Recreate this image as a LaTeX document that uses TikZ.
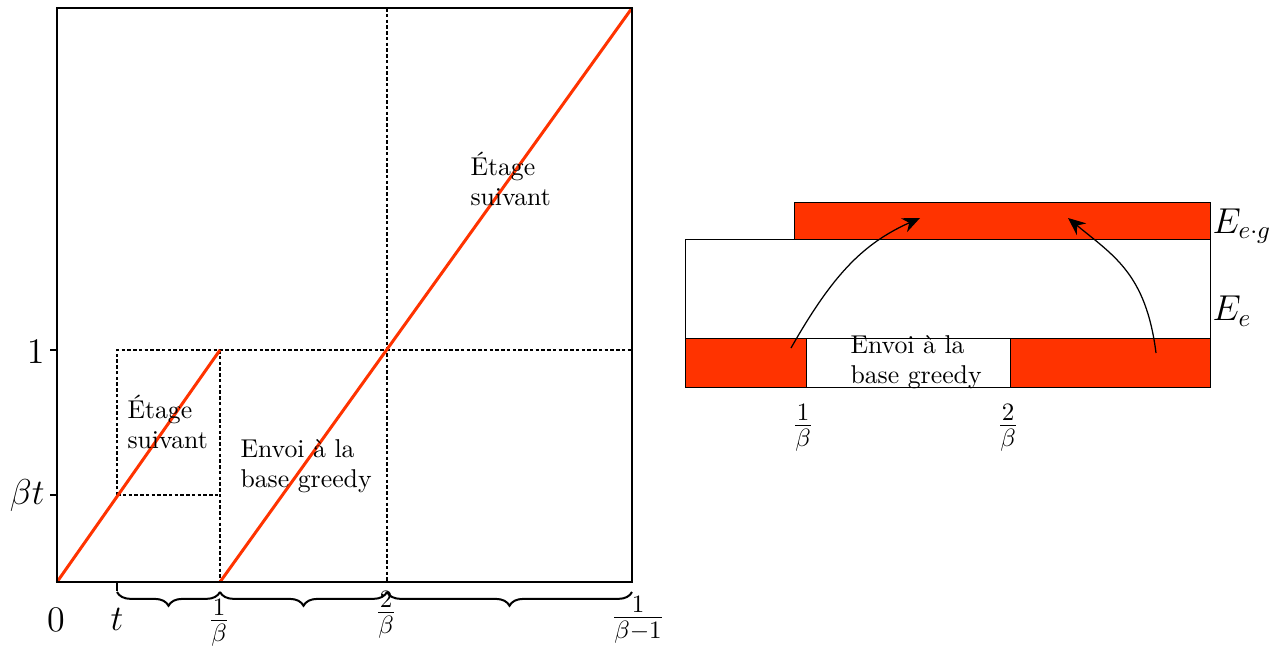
\documentclass[tikz,border=0pt]{standalone}
\usepackage{amsmath}
\usepackage{amssymb}
\usepackage{tikz}
\usetikzlibrary{arrows.meta, decorations.pathreplacing, positioning, calc}
\definecolor{vermillon}{RGB}{255,51,0}
\tikzstyle{frame} = [draw=black, line width=0.7pt]
\tikzstyle{arrow} = [line width=0.5pt, -{Stealth[length=7pt, width=6pt]}]

\begin{document}
\begin{tikzpicture}[x=0.4pt, y=-0.4pt]

    % --- Styles ---
    \tikzset{
        frame/.style={draw=black, line width=0.75pt},
        guide/.style={dash pattern=on 1.4pt off 0.9pt, line width=0.45pt},
        rate/.style={vermillon, line width=1.2pt},
        curly/.style={decorate, decoration={brace, mirror, amplitude=5.5pt}, line width=0.8pt},
        ticklabel/.style={font=\fontsize{14}{16}\selectfont, inner sep=0pt},
        fraclabel/.style={font=\Large, inner sep=0pt},
        caption/.style={align=left, anchor=north west, inner sep=0pt, font=\fontsize{10.3}{12}\selectfont},
        bar/.style={draw=black, line width=0.4pt, fill=white},
        hot/.style={bar, fill=vermillon},
        arrow/.style={line width=0.5pt, -{Stealth[length=7pt, width=6pt]}}
    }

    \useasboundingbox (0,0) rectangle (1278,648);

    % --- Graphe de gauche ---
    \draw[guide] (117,495) -- (117,350) -- (632,350);
    \draw[guide] (117,495) -- (220,495);
    \draw[guide] (220,350) -- (220,582);
    \draw[guide] (387,8) -- (387,582);
    \draw[rate] (57,582) -- (220,350);
    \draw[rate] (220,582) -- (632,8);
    \draw[frame] (57,8) rectangle (632,582);

    % graduations
    \draw[frame] (50,350) -- (57,350);
    \draw[frame] (50,495) -- (57,495);
    \draw[frame] (117,582) -- (117,591);
    \node (lab1) [ticklabel, anchor=east] at (45,352) {$1$};
    \node (labbt) [ticklabel, anchor=east] at (45,495) {$\beta t$};
    \node (lab0) [ticklabel] at (56,620) {$0$};
    \node (labt) [ticklabel] at (117,619) {$t$};
    \node (labinv) [fraclabel] at (219,623) {$\frac{1}{\beta}$};
    \node (labtwo) [fraclabel] at (386,615) {$\frac{2}{\beta}$};
    \node (labend) [fraclabel] at (638,620) {$\frac{1}{\beta-1}$};

    % accolades
    \draw[curly] (117,592) -- (220,592);
    \draw[curly] (220,592) -- (387,592);
    \draw[curly] (387,592) -- (632,592);

    % textes
    \node (nexthigh) [caption] at (470,152) {\'Etage\\suivant};
    \node (nextlow) [caption] at (127,395) {\'Etage\\suivant};
    \node (greedyleft) [caption] at (240,439) {Envoi \`a la\\base greedy};

    % --- Schema de droite ---
    \draw[bar] (685,239) rectangle (1210,338);
    \draw[hot] (794,202) rectangle (1210,239);
    \draw[hot] (685,338) rectangle (806,387);
    \draw[bar] (806,338) rectangle (1010,387);
    \draw[hot] (1010,338) rectangle (1210,387);

    \node (greedyright) [caption] at (850,335) {Envoi \`a la\\base greedy};
    \node (eeg) [ticklabel, anchor=west] at (1212,226) {$E_{e\cdot g}$};
    \node (ee) [ticklabel, anchor=west] at (1212,311) {$E_e$};
    \node (rinv) [fraclabel] at (803,428) {$\frac{1}{\beta}$};
    \node (rtwo) [fraclabel] at (1008,428) {$\frac{2}{\beta}$};

    % fleches
    \coordinate (srcleft) at (791,348);
    \coordinate (dstleft) at (920,218);
    \coordinate (srcright) at (1156,353);
    \coordinate (dstright) at (1068,218);
    \draw[arrow] (srcleft) .. controls (832,276) and (862,244) .. (dstleft);
    \draw[arrow] (srcright) .. controls (1146,274) and (1114,256) .. (dstright);

\end{tikzpicture}
\end{document}
